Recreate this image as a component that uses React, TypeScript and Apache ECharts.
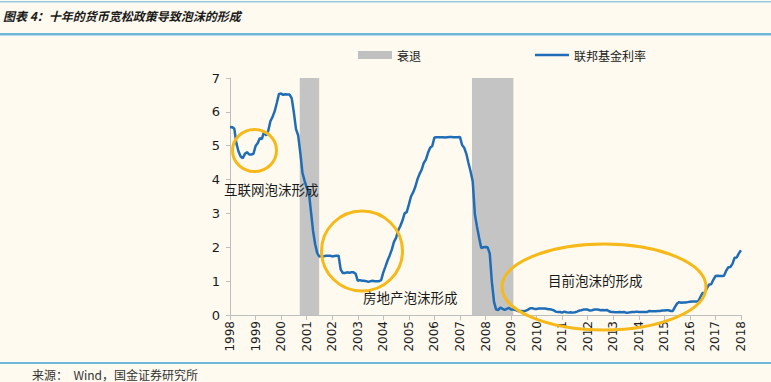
import React, { useEffect, useRef } from "react";
import * as echarts from "echarts";

// Monthly federal funds rate, plotted from the first axis year (1998) onwards
const startYear = 1998;
const monthsPerYear = 12;
const fedFunds: number[] = [
  5.54, 5.55, 5.51, 5.07, 4.83, 4.68,
  4.63, 4.76, 4.81, 4.74, 4.74, 4.76, 4.99, 5.07, 5.22, 5.2, 5.42, 5.3,
  5.45, 5.73, 5.85, 6.02, 6.27, 6.53, 6.54, 6.5, 6.52, 6.51, 6.51, 6.4,
  5.98, 5.49, 5.31, 4.8, 4.21, 3.97, 3.77, 3.65, 3.07, 2.49, 2.09, 1.82,
  1.73, 1.74, 1.73, 1.75, 1.75, 1.75, 1.73, 1.74, 1.75, 1.75, 1.34, 1.24,
  1.24, 1.26, 1.25, 1.26, 1.26, 1.22, 1.01, 1.03, 1.01, 1.01, 1.0, 0.98,
  1.0, 1.01, 1.0, 1.0, 1.0, 1.03, 1.26, 1.43, 1.61, 1.76, 1.93, 2.16,
  2.28, 2.5, 2.63, 2.79, 3.0, 3.04, 3.26, 3.5, 3.62, 3.78, 4.0, 4.16,
  4.29, 4.49, 4.59, 4.79, 4.94, 4.99, 5.24, 5.25, 5.25, 5.25, 5.25, 5.24,
  5.25, 5.26, 5.26, 5.25, 5.25, 5.25, 5.26, 5.02, 4.94, 4.76, 4.49, 4.24,
  3.94, 2.98, 2.61, 2.28, 1.98, 2.0, 2.01, 2.0, 1.81, 0.97, 0.39, 0.16,
  0.15, 0.22, 0.18, 0.15, 0.18, 0.21, 0.16, 0.16, 0.15, 0.12, 0.12, 0.12,
  0.11, 0.13, 0.16, 0.2, 0.2, 0.18, 0.18, 0.19, 0.19, 0.19, 0.19, 0.18,
  0.17, 0.16, 0.14, 0.1, 0.09, 0.09, 0.07, 0.1, 0.08, 0.07, 0.08, 0.07,
  0.08, 0.1, 0.13, 0.14, 0.16, 0.16, 0.16, 0.13, 0.14, 0.16, 0.16, 0.16,
  0.14, 0.15, 0.14, 0.15, 0.11, 0.09, 0.09, 0.08, 0.08, 0.09, 0.08, 0.09,
  0.07, 0.07, 0.08, 0.09, 0.09, 0.1, 0.09, 0.09, 0.09, 0.09, 0.09, 0.12,
  0.11, 0.11, 0.11, 0.12, 0.12, 0.13, 0.13, 0.14, 0.14, 0.12, 0.12, 0.24,
  0.34, 0.38, 0.36, 0.37, 0.37, 0.38, 0.39, 0.4, 0.4, 0.4, 0.41, 0.54,
  0.65, 0.66, 0.79, 0.9, 0.91, 1.04, 1.15, 1.16, 1.15, 1.15, 1.16, 1.3,
  1.41, 1.42, 1.51, 1.69, 1.7, 1.82, 1.91,
];

// Recession periods (axis-year units)
const recessionStarts = [2000.73, 2007.47];
const recessionEnds = [2001.49, 2009.09];

const xMin = 1998;
const xMax = 2018;
const yMin = 0;
const yMax = 7;

const seriesNames = ["衰退", "联邦基金利率"];
const titleText = "图表 4：十年的货币宽松政策导致泡沫的形成";
const sourceText = "来源：  Wind，国金证券研究所";
const noteTexts = ["互联网泡沫形成", "房地产泡沫形成", "目前泡沫的形成"];

const CJK = "'Noto Sans CJK SC', 'Noto Sans', sans-serif";

export default function App() {
  const ref = useRef<HTMLDivElement>(null);

  useEffect(() => {
    if (!ref.current) return;
    const chart = echarts.init(ref.current, null, { renderer: "svg" });
    const gold = "#f6b919";
    const blueRule = "#6cb7da";
    const lineBlue = "#1f6db6";

    chart.setOption({
      animation: false,
      backgroundColor: "#fffaf0",
      grid: { left: 230, right: 30, top: 78, bottom: 67, containLabel: false },
      legend: {
        left: 358,
        top: 49,
        padding: 0,
        itemWidth: 34,
        itemHeight: 8,
        itemGap: 114,
        textStyle: { fontSize: 12, color: "#1a1a1a", fontFamily: CJK },
        data: [
          { name: seriesNames[0], icon: "rect" },
          { name: seriesNames[1], icon: "path://M0,0 H34 V2.6 H0 Z" },
        ],
      },
      xAxis: {
        type: "value",
        min: xMin,
        max: xMax,
        interval: 1,
        axisLine: { show: true, lineStyle: { color: "#bfbfbf", width: 1 } },
        axisTick: { show: true, length: 5, lineStyle: { color: "#bfbfbf" } },
        axisLabel: {
          rotate: 90,
          fontSize: 12,
          color: "#1a1a1a",
          fontFamily: "'DejaVu Sans', sans-serif",
          margin: 6,
          formatter: (v: number) => String(v),
        },
        splitLine: { show: false },
      },
      yAxis: {
        type: "value",
        min: yMin,
        max: yMax,
        interval: 1,
        axisLine: { show: true, lineStyle: { color: "#bfbfbf", width: 1 } },
        axisTick: { show: true, length: 4, lineStyle: { color: "#bfbfbf" } },
        axisLabel: {
          fontSize: 13,
          color: "#1a1a1a",
          fontFamily: "'DejaVu Sans', sans-serif",
          margin: 10,
        },
        splitLine: { show: false },
      },
      series: [
        {
          name: seriesNames[0],
          type: "bar",
          data: [],
          itemStyle: { color: "#c0c0c0" },
          z: 1,
          markArea: {
            silent: true,
            itemStyle: { color: "#c4c4c4" },
            data: recessionStarts.map((s, i) => [
              { xAxis: s, yAxis: yMin },
              { xAxis: recessionEnds[i], yAxis: yMax },
            ]),
          },
        },
        {
          name: seriesNames[1],
          type: "line",
          symbol: "none",
          showSymbol: false,
          z: 3,
          lineStyle: { color: lineBlue, width: 2.5 },
          itemStyle: { color: lineBlue },
          data: fedFunds.map((v, i) => [startYear + i / monthsPerYear, v]),
        },
      ],
      graphic: [
        { type: "rect", shape: { x: 0, y: 1, width: 771, height: 1.5 }, style: { fill: "#8fcbe4" } },
        { type: "rect", shape: { x: 0, y: 33, width: 771, height: 2.5 }, style: { fill: blueRule } },
        { type: "rect", shape: { x: 0, y: 362, width: 771, height: 2 }, style: { fill: blueRule } },
        {
          type: "text",
          x: 3,
          y: 15,
          style: {
            text: titleText,
            fontSize: 12,
            fontWeight: "bold",
            fontStyle: "italic",
            fontFamily: CJK,
            fill: "#1a1a1a",
            verticalAlign: "middle",
          },
        },
        {
          type: "text",
          x: 32,
          y: 374,
          style: {
            text: sourceText,
            fontSize: 12,
            fontFamily: CJK,
            fill: "#333333",
            verticalAlign: "middle",
          },
        },
        {
          type: "ellipse",
          z: 10,
          shape: { cx: 254.5, cy: 150.5, rx: 22, ry: 21 },
          style: { fill: "none", stroke: gold, lineWidth: 3 },
        },
        {
          type: "ellipse",
          z: 10,
          shape: { cx: 362, cy: 251, rx: 40.5, ry: 40 },
          style: { fill: "none", stroke: gold, lineWidth: 3 },
        },
        {
          type: "ellipse",
          z: 10,
          shape: { cx: 604, cy: 287, rx: 102, ry: 43 },
          style: { fill: "none", stroke: gold, lineWidth: 3 },
        },
        {
          type: "text",
          z: 11,
          x: 224,
          y: 189,
          style: { text: noteTexts[0], fontSize: 13.5, fontFamily: CJK, fill: "#1a1a1a", verticalAlign: "middle" },
        },
        {
          type: "text",
          z: 11,
          x: 363,
          y: 297,
          style: { text: noteTexts[1], fontSize: 13.5, fontFamily: CJK, fill: "#1a1a1a", verticalAlign: "middle" },
        },
        {
          type: "text",
          z: 11,
          x: 548,
          y: 280,
          style: { text: noteTexts[2], fontSize: 13.5, fontFamily: CJK, fill: "#1a1a1a", verticalAlign: "middle" },
        },
      ],
    });

    return () => chart.dispose();
  }, []);

  return (
    <div
      ref={ref}
      style={{ position: "absolute", left: 0, top: 0, width: 771, height: 382 }}
    />
  );
}
